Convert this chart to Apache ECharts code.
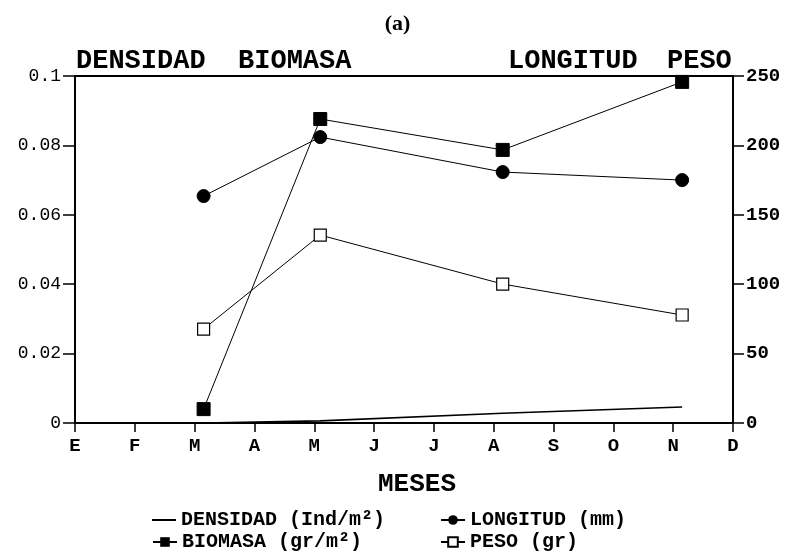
<!DOCTYPE html>
<html>
<head>
<meta charset="utf-8">
<style>
  html, body { margin: 0; padding: 0; background: #fff; }
  #chart { width: 795px; height: 555px; }
</style>
<script src="https://cdn.jsdelivr.net/npm/echarts@6/dist/echarts.min.js"></script>
</head>
<body>
<div id="chart"></div>
<script>
// Month letters along the x axis (Enero .. Diciembre)
const monthLabels = ['E', 'F', 'M', 'A', 'M', 'J', 'J', 'A', 'S', 'O', 'N', 'D'];
// Sampling dates, as fractional month positions (0 = Enero)
const samplingMonths = [2.15, 4.1, 7.15, 10.15];

// Left axis series
const densidad = [0.0, 0.0006, 0.0028, 0.0046];      // Ind/m²
const biomasa = [0.0040, 0.0876, 0.0787, 0.0983];    // gr/m²
// Right axis series
const longitud = [163.5, 206.0, 180.8, 175.0];       // mm
const peso = [67.7, 135.4, 100.1, 77.8];             // gr

const leftTicks = { min: 0, max: 0.1, interval: 0.02 };
const rightTicks = { min: 0, max: 250, interval: 50 };

const mono = '"Liberation Mono", "Courier New", monospace';

function pairs(xs, ys) { return xs.map((x, i) => [x, ys[i]]); }

const names = {
  dens: 'DENSIDAD (Ind/m²)',
  bio: 'BIOMASA (gr/m²)',
  lon: 'LONGITUD (mm)',
  peso: 'PESO (gr)'
};

const chart = echarts.init(document.getElementById('chart'), null, { renderer: 'canvas' });

const legendText = { fontFamily: mono, fontWeight: 'bold', fontSize: 20, color: '#000' };
function legendAt(left, top, name, extra) {
  return Object.assign({
    orient: 'horizontal',
    left: left, top: top,
    itemWidth: 24, itemHeight: 12, itemGap: 5,
    padding: 0,
    selectedMode: false,
    textStyle: legendText,
    data: [{ name: name }]
  }, extra || {});
}

chart.setOption({
  animation: false,
  backgroundColor: '#fff',
  title: {
    text: '(a)',
    left: 'center',
    top: 8,
    textStyle: { fontFamily: '"Liberation Serif", serif', fontWeight: 'bold', fontSize: 22, color: '#000' }
  },
  grid: {
    left: 75, right: 62, top: 76, bottom: 132,
    show: true, borderColor: '#000', borderWidth: 1.8, backgroundColor: 'transparent'
  },
  graphic: [
    { type: 'text', left: 76, top: 48, style: { text: 'DENSIDAD  BIOMASA', font: 'bold 27px ' + mono, fill: '#000' } },
    { type: 'text', left: 508, top: 48, style: { text: 'LONGITUD', font: 'bold 27px ' + mono, fill: '#000' } },
    { type: 'text', left: 667, top: 48, style: { text: 'PESO', font: 'bold 27px ' + mono, fill: '#000' } },
    { type: 'text', left: 378, top: 471, style: { text: 'MESES', font: 'bold 26px ' + mono, fill: '#000' } }
  ],
  legend: [
    legendAt(152, 510, names.dens, { icon: 'rect', itemHeight: 2 }),
    legendAt(152, 532, names.bio),
    legendAt(440, 510, names.lon),
    legendAt(440, 532, names.peso)
  ],
  xAxis: {
    type: 'value',
    min: 0, max: 11, interval: 1,
    axisLine: { show: true, lineStyle: { color: '#000', width: 2 } },
    axisTick: { show: true, length: 9, lineStyle: { color: '#000', width: 1.5 } },
    splitLine: { show: false },
    axisLabel: {
      margin: 14,
      fontFamily: mono, fontWeight: 'bold', fontSize: 19, color: '#000',
      formatter: v => monthLabels[Math.round(v)] || ''
    }
  },
  yAxis: [
    {
      type: 'value',
      min: leftTicks.min, max: leftTicks.max, interval: leftTicks.interval,
      axisLine: { show: true, lineStyle: { color: '#000', width: 2 } },
      axisTick: { show: true, length: 12, lineStyle: { color: '#000', width: 1.5 } },
      splitLine: { show: false },
      axisLabel: {
        margin: 14,
        fontFamily: mono, fontSize: 18, color: '#000',
        formatter: v => String(+v.toFixed(2))
      }
    },
    {
      type: 'value',
      min: rightTicks.min, max: rightTicks.max, interval: rightTicks.interval,
      position: 'right',
      axisLine: { show: true, lineStyle: { color: '#000', width: 2 } },
      axisTick: { show: true, length: 11, lineStyle: { color: '#000', width: 1.5 } },
      splitLine: { show: false },
      axisLabel: {
        margin: 13,
        fontFamily: mono, fontWeight: 'bold', fontSize: 19, color: '#000'
      }
    }
  ],
  series: [
    {
      name: names.dens, type: 'line', yAxisIndex: 0,
      data: pairs(samplingMonths, densidad),
      showSymbol: false, symbol: 'none',
      lineStyle: { color: '#000', width: 1.6 },
      itemStyle: { color: '#000' }
    },
    {
      name: names.bio, type: 'line', yAxisIndex: 0,
      data: pairs(samplingMonths, biomasa),
      symbol: 'rect', symbolSize: 13,
      lineStyle: { color: '#000', width: 1 },
      itemStyle: { color: '#000', borderColor: '#000' }
    },
    {
      name: names.lon, type: 'line', yAxisIndex: 1,
      data: pairs(samplingMonths, longitud),
      symbol: 'circle', symbolSize: 13,
      lineStyle: { color: '#000', width: 1 },
      itemStyle: { color: '#000', borderColor: '#000' }
    },
    {
      name: names.peso, type: 'line', yAxisIndex: 1,
      data: pairs(samplingMonths, peso),
      symbol: 'rect', symbolSize: 12,
      lineStyle: { color: '#000', width: 1 },
      itemStyle: { color: '#fff', borderColor: '#000', borderWidth: 1.2 }
    }
  ]
});
</script>
</body>
</html>
